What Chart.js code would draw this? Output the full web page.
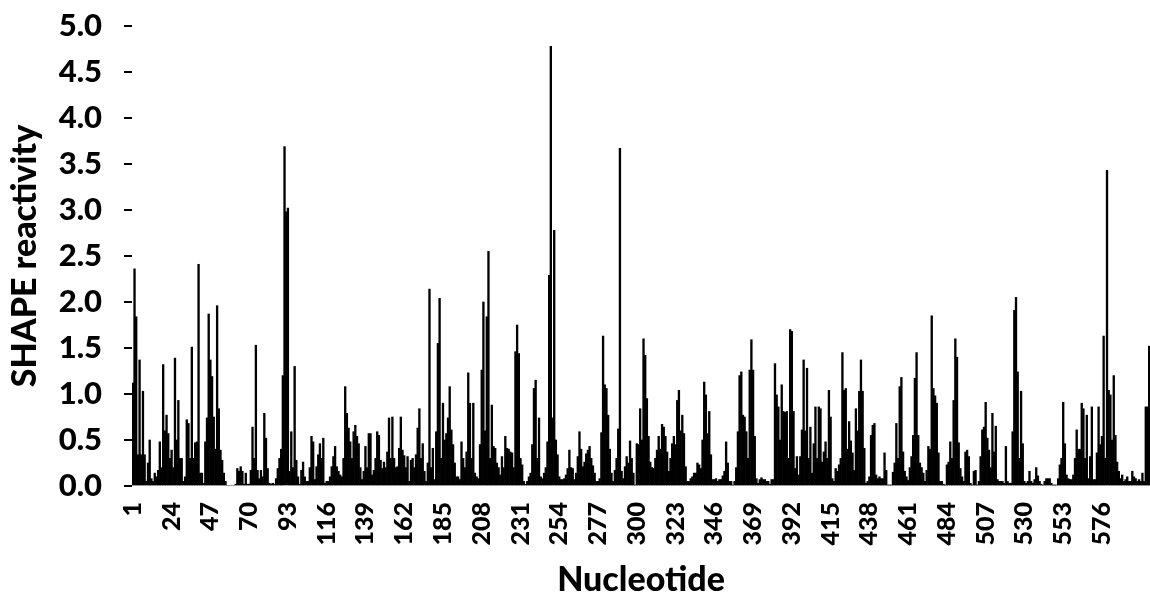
<!DOCTYPE html>
<html>
<head>
<meta charset="utf-8">
<script src="https://cdn.jsdelivr.net/npm/chart.js@4"></script>
<style>
  html, body { margin: 0; padding: 0; background: #fff; }
</style>
</head>
<body>
<canvas id="myChart" width="1150" height="602"></canvas>
<script>
// SHAPE reactivity per nucleotide (10 per row)
var shape = [
    1.12, 2.36, 1.84, 0.34, 1.37, 0.34, 1.03, 0.34, 0.05, 0.25,
    0.5, 0.08, 0.05, 0.14, 0.1, 0.17, 0.48, 0.2, 1.32, 0.6,
    0.77, 0.57, 0.3, 0.39, 0.2, 1.39, 0.5, 0.93, 0.3, 0.3,
    0.05, 0.1, 0.72, 0.68, 0.3, 1.51, 0.3, 0.47, 0.48, 2.41,
    0.14, 0.14, 0.03, 0.48, 0.74, 1.87, 1.37, 1.19, 0.75, 0.4,
    1.96, 0.84, 0.39, 0.28, 0.14, 0.05, 0, 0, 0, 0,
    0, 0.02, 0.19, 0.16, 0.21, 0.16, 0.02, 0.14, 0.02, 0.02,
    0.17, 0.64, 0.3, 1.53, 0.17, 0.08, 0.17, 0.1, 0.79, 0.52,
    0.19, 0.03, 0.02, 0.03, 0.02, 0.08, 0.19, 0.3, 0.4, 1.2,
    3.69, 2.98, 3.02, 0.16, 0.59, 0.2, 1.3, 0.28, 0.1, 0.02,
    0.17, 0.26, 0.1, 0.05, 0.05, 0.2, 0.54, 0.48, 0.07, 0.21,
    0.34, 0.46, 0.3, 0.52, 0.03, 0.05, 0.05, 0.1, 0.21, 0.32,
    0.43, 0.21, 0.16, 0.12, 0.1, 0.3, 1.08, 0.79, 0.63, 0.48,
    0.3, 0.59, 0.66, 0.54, 0.46, 0.2, 0.07, 0.16, 0.43, 0.2,
    0.57, 0.57, 0.12, 0.17, 0.3, 0.59, 0.55, 0.28, 0.19, 0.26,
    0.2, 0.37, 0.74, 0.3, 0.75, 0.3, 0.2, 0.21, 0.41, 0.75,
    0.39, 0.33, 0.2, 0.32, 0.05, 0.28, 0.3, 0.2, 0.34, 0.63,
    0.84, 0.3, 0.46, 0.16, 0.05, 0.25, 2.14, 0.2, 0.41, 0.07,
    0.59, 1.55, 2.04, 0.3, 0.9, 0.5, 0.57, 0.74, 1.08, 0.61,
    0.45, 0.25, 0.1, 0.1, 0.07, 0.48, 0.3, 0.2, 0.37, 1.23,
    0.9, 0.3, 0.9, 0.14, 0.1, 0.08, 0.45, 1.26, 2.0, 0.6,
    1.84, 2.55, 0.3, 0.88, 0.43, 0.41, 0.25, 0.2, 0.12, 0.32,
    0.2, 0.54, 0.41, 0.4, 0.37, 0.36, 0.2, 1.46, 1.75, 1.44,
    0.3, 0.23, 0.05, 0.02, 0.05, 0.1, 0.14, 0.45, 1.06, 1.15,
    0.3, 0.74, 0.1, 0.08, 0.14, 0.2, 0.48, 2.29, 4.78, 0.74,
    2.78, 0.5, 0.34, 0.1, 0.07, 0.07, 0.08, 0.12, 0.19, 0.39,
    0.2, 0.19, 0.07, 0.14, 0.32, 0.59, 0.4, 0.21, 0.26, 0.35,
    0.39, 0.43, 0.3, 0.22, 0.14, 0.05, 0.05, 0.08, 0.58, 1.63,
    1.1, 1.06, 0.77, 0.4, 0.14, 0.05, 0.17, 0.3, 0.62, 3.67,
    0.16, 0.08, 0.21, 0.32, 0.25, 0.49, 0.3, 0.14, 0.01, 0.46,
    0.45, 0.84, 0.5, 1.6, 1.42, 0.95, 0.54, 0.26, 0.2, 0.19,
    0.3, 0.39, 0.54, 0.4, 0.67, 0.64, 0.54, 0.37, 0.16, 0.3,
    0.46, 0.54, 0.45, 0.93, 1.04, 0.6, 0.77, 0.57, 0.21, 0.05,
    0.05, 0.08, 0.1, 0.14, 0.14, 0.25, 0.23, 0.19, 0.5, 1.13,
    0.99, 0.57, 0.81, 0.34, 0.07, 0.07, 0.08, 0.05, 0.07, 0.07,
    0.11, 0.16, 0.48, 0.25, 0.05, 0.05, 0.01, 0.05, 0.2, 0.59,
    1.2, 1.24, 0.77, 0.75, 0.59, 0.3, 1.26, 1.59, 1.26, 0.54,
    0.08, 0.03, 0.07, 0.09, 0.07, 0.07, 0.05, 0.05, 0.02, 0.07,
    0.07, 1.33, 0.99, 0.86, 0.5, 1.1, 0.81, 0.8, 0.81, 0.3,
    1.7, 1.68, 0.81, 0.19, 0.32, 0.12, 0.32, 0.61, 1.37, 0.6,
    1.28, 0.3, 0.64, 0.14, 0.46, 0.86, 0.3, 0.86, 0.84, 0.26,
    0.37, 0.48, 0.3, 1.04, 0.75, 0.08, 0.05, 0.19, 0.16, 0.23,
    0.3, 1.45, 1.04, 1.06, 0.4, 0.7, 0.49, 0.36, 0.17, 0.84,
    0.6, 1.03, 1.37, 1.03, 0.41, 0.03, 0.05, 0.1, 0.55, 0.66,
    0.68, 0.12, 0.08, 0.1, 0.08, 0.08, 0.36, 0.17, 0.01, 0.01,
    0.01, 0.15, 0.25, 0.68, 0.3, 1.08, 1.18, 0.37, 0.16, 0.1,
    0.06, 0.2, 0.32, 0.55, 1.17, 1.45, 0.55, 0.25, 0.2, 0.14,
    0.05, 0.17, 0.43, 0.4, 1.85, 1.06, 0.98, 0.9, 0.36, 0.05,
    0.05, 0.02, 0.01, 0.23, 0.26, 0.48, 0.3, 0.93, 1.6, 1.4,
    0.47, 0.19, 0.1, 0.05, 0.37, 0.39, 0.32, 0.03, 0.01, 0.16,
    0.17, 0.01, 0.05, 0.32, 0.61, 0.64, 0.91, 0.52, 0.39, 0.2,
    0.79, 0.37, 0.65, 0.07, 0.05, 0.05, 0.05, 0.03, 0.43, 0.05,
    0.03, 0.03, 0.59, 1.91, 2.05, 1.24, 0.3, 1.03, 0.46, 0.05,
    0.03, 0.05, 0.16, 0.05, 0.03, 0.07, 0.2, 0.11, 0.05, 0.02,
    0.01, 0.05, 0.08, 0.08, 0.08, 0.03, 0.01, 0.01, 0.01, 0.08,
    0.23, 0.3, 0.91, 0.46, 0.12, 0.08, 0.07, 0.07, 0.12, 0.3,
    0.61, 0.4, 0.4, 0.9, 0.84, 0.3, 0.77, 0.08, 0.32, 0.86,
    0.07, 0.07, 0.36, 0.86, 0.45, 0.54, 1.63, 0.3, 3.43, 1.04,
    0.99, 0.5, 1.2, 0.55, 0.26, 0.16, 0.08, 0.12, 0.05, 0.07,
    0.1, 0.05, 0.05, 0.16, 0.1, 0.08, 0.05, 0.07, 0.05, 0.14,
    0.05, 0.86, 0.86, 1.52
];

// nucleotide numbers along the x axis
var nucleotides = [];
for (var n = 1; n <= shape.length; n++) {
    nucleotides.push(String(n));
}

var labelEvery = 23;      // a label on 1, 24, 47 ...
var lastShownLabel = 576; // the right edge of the picture cuts off the rest

var yMin = 0;
var yMax = 5;
var yStep = 0.5;

var boldFont = "Lato, 'Open Sans', sans-serif";

var ctx = document.getElementById("myChart");
var myChart = new Chart(ctx, {
    type: 'bar',
    data: {
        labels: nucleotides,
        datasets: [{
            label: 'SHAPE reactivity',
            data: shape,
            backgroundColor: '#000000',
            borderWidth: 0,
            barPercentage: 1.0,
            categoryPercentage: 1.0
        }]
    },
    options: {
        responsive: false,
        animation: false,
        devicePixelRatio: 1,
        layout: {
            padding: {top: 26, right: 0, bottom: 0, left: 0}
        },
        plugins: {
            legend: {display: false},
            tooltip: {enabled: false}
        },
        scales: {
            x: {
                grid: {display: false},
                border: {display: false},
                ticks: {
                    autoSkip: false,
                    maxRotation: 90,
                    minRotation: 90,
                    padding: 8,
                    color: '#000',
                    font: {family: boldFont, size: 25, weight: '900'},
                    callback: function(value, index) {
                        var num = Number(nucleotides[index]);
                        if (index % labelEvery === 0 && num <= lastShownLabel) {
                            return nucleotides[index];
                        }
                        return '';
                    }
                },
                title: {
                    display: true,
                    text: 'Nucleotide',
                    color: '#000',
                    font: {family: boldFont, size: 34, weight: '900'},
                    padding: {top: 0, bottom: 2}
                },
                afterFit: function(scale) {
                    scale.height = 602 - 486;
                    scale.paddingLeft = 0;
                    scale.paddingRight = 0;
                }
            },
            y: {
                min: yMin,
                max: yMax,
                grid: {
                    drawOnChartArea: false,
                    drawTicks: true,
                    tickLength: 8,
                    color: '#000',
                    lineWidth: 2
                },
                border: {display: false},
                ticks: {
                    stepSize: yStep,
                    padding: 22,
                    color: '#000',
                    font: {family: boldFont, size: 31, weight: '900'},
                    callback: function(value) {
                        return Number(value).toFixed(1);
                    }
                },
                title: {
                    display: true,
                    text: 'SHAPE reactivity',
                    color: '#000',
                    font: {family: boldFont, size: 34, weight: '900'},
                    padding: {top: 5, bottom: 0}
                },
                afterFit: function(scale) {
                    scale.width = 132;
                    scale.paddingTop = 0;
                    scale.paddingBottom = 0;
                }
            }
        }
    }
});
</script>
</body>
</html>
